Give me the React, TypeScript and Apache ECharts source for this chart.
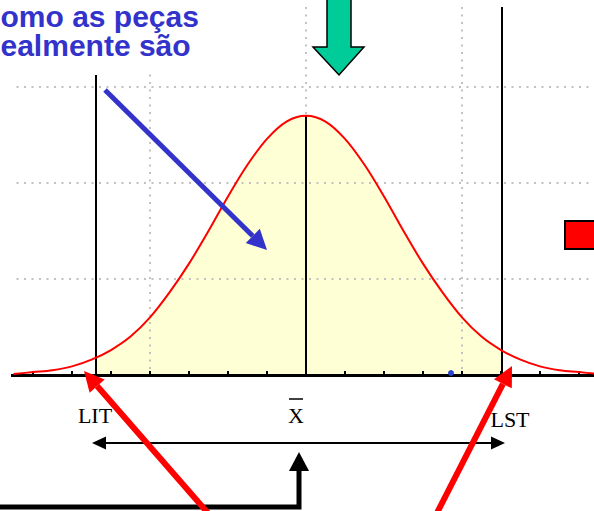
import { useEffect, useRef } from 'react';
import * as echarts from 'echarts';

// Horizontal positions in axis units (one unit per tick), heights in grid units
const curveX = [-7.5, -7, -6.5, -6, -5.5, -5, -4.5, -4, -3.5, -3, -2.5, -2, -1.5, -1, -0.5, 0, 0.5, 1, 1.5, 2, 2.5, 3, 3.5, 4, 4.5, 5, 5.5, 6, 6.5, 7, 7.5];
const curveY = [0.01, 0.03, 0.05, 0.09, 0.16, 0.26, 0.4, 0.6, 0.86, 1.16, 1.5, 1.86, 2.19, 2.46, 2.64, 2.7, 2.64, 2.46, 2.19, 1.86, 1.5, 1.16, 0.86, 0.6, 0.4, 0.26, 0.16, 0.09, 0.05, 0.03, 0.01];

// Specification limits and mean
const LIT = -5.385;
const LST = 5.03;
const MEAN = 0;
const litHeight = 0.17;
const lstHeight = 0.24;
const peakHeight = 2.7;
const litTop = 3.125;
const lstTop = 3.833;

const limitLabels = ['LIT', 'X', 'LST'];
const headline = ['omo as peças', 'ealmente são'];

// The chart canvas starts a little left of the visible page so that the
// axis range -8..8 lines up with the tick spacing; overlay drawings are
// placed in a group shifted back so their coordinates are page pixels.
const SHIFT = 6;
const VIEW_W = 594;
const VIEW_H = 511;
const CHART_W = 624;

type Pt = [number, number];

// Triangle arrow head pointing at `tip`, coming from `from`
function head(tip: Pt, from: Pt, len: number, half: number) {
  const dx = tip[0] - from[0];
  const dy = tip[1] - from[1];
  const d = Math.hypot(dx, dy);
  const ux = dx / d;
  const uy = dy / d;
  const bx = tip[0] - ux * len;
  const by = tip[1] - uy * len;
  const px = -uy;
  const py = ux;
  return {
    base: [bx, by] as Pt,
    points: [tip, [bx + px * half, by + py * half], [bx - px * half, by - py * half]] as Pt[],
  };
}

function arrow(from: Pt, tip: Pt, color: string, width: number, len: number, half: number, z: number) {
  const h = head(tip, from, len, half);
  return [
    { type: 'line', z, shape: { x1: from[0], y1: from[1], x2: h.base[0], y2: h.base[1] }, style: { stroke: color, lineWidth: width } },
    { type: 'polygon', z, shape: { points: h.points }, style: { fill: color } },
  ];
}

export default function App() {
  const ref = useRef<HTMLDivElement>(null);

  useEffect(() => {
    if (!ref.current) return;
    const chart = echarts.init(ref.current, undefined, { renderer: 'svg' });

    const curve = curveX.map((x, i) => [x, curveY[i]]);
    const fill: number[][] = [[LIT, litHeight]];
    curveX.forEach((x, i) => {
      if (x > LIT && x < LST) fill.push([x, curveY[i]]);
    });
    fill.push([LST, lstHeight]);

    const dotted = { color: '#c2c2c2', width: 2, type: [2, 5.5] as number[] };
    const serif = '22px "Liberation Serif", "Times New Roman", serif';
    const sans = 'bold 30px "Liberation Sans", Arial, sans-serif';
    const blue = '#3333CC';

    const leftHead = head([92, 443], [505, 443], 14, 6.5);
    const rightHead = head([505, 443], [92, 443], 14, 6.5);
    const upHead = head([299, 452], [299, 507], 19, 10);

    const overlay: any[] = [
      // text box background and left margin
      { type: 'rect', z: 50, shape: { x: -SHIFT, y: 0, width: 246, height: 72 }, style: { fill: '#fff' } },
      { type: 'rect', z: 50, shape: { x: -SHIFT, y: 72, width: 17, height: 310 }, style: { fill: '#fff' } },
      {
        type: 'text', z: 60, x: 0.5, y: 1.5,
        style: { text: headline.join('\n'), font: sans, lineHeight: 29.5, fill: blue, align: 'left', verticalAlign: 'top' },
      },
      // blue pointer into the curve
      ...arrow([105, 90], [267, 250], blue, 5, 20, 10, 60),
      // green block arrow above the mean
      {
        type: 'polygon', z: 60,
        shape: { points: [[327, -3], [351, -3], [351, 47], [364, 47], [339, 75], [313, 47], [327, 47]] },
        style: { fill: '#00CC99', stroke: '#000', lineWidth: 1.5 },
      },
      // red legend square
      { type: 'rect', z: 60, shape: { x: 565, y: 221, width: 40, height: 28 }, style: { fill: '#FF0000', stroke: '#000', lineWidth: 2 } },
      // small blue marker on the axis
      { type: 'circle', z: 60, shape: { cx: 451, cy: 373, r: 3 }, style: { fill: '#2a44d0' } },
      // limit labels
      { type: 'text', z: 60, x: 95, y: 415.5, style: { text: limitLabels[0], font: serif, fill: '#000', align: 'center', verticalAlign: 'middle' } },
      { type: 'text', z: 60, x: 296, y: 415.5, style: { text: limitLabels[1], font: serif, fill: '#000', align: 'center', verticalAlign: 'middle' } },
      { type: 'line', z: 60, shape: { x1: 289, y1: 399, x2: 303, y2: 399 }, style: { stroke: '#000', lineWidth: 1.5 } },
      { type: 'text', z: 60, x: 510, y: 419.5, style: { text: limitLabels[2], font: serif, fill: '#000', align: 'center', verticalAlign: 'middle' } },
      // tolerance span arrow
      { type: 'line', z: 60, shape: { x1: leftHead.base[0], y1: 443, x2: rightHead.base[0], y2: 443 }, style: { stroke: '#000', lineWidth: 2 } },
      { type: 'polygon', z: 60, shape: { points: leftHead.points }, style: { fill: '#000' } },
      { type: 'polygon', z: 60, shape: { points: rightHead.points }, style: { fill: '#000' } },
      // elbow arrow from below
      {
        type: 'polyline', z: 60,
        shape: { points: [[-10, 507], [299, 507], [299, upHead.base[1]]] },
        style: { stroke: '#000', lineWidth: 5, fill: 'none', lineJoin: 'miter' },
      },
      { type: 'polygon', z: 60, shape: { points: upHead.points }, style: { fill: '#000' } },
      // red arrows to the limits
      ...arrow([214, 520], [84, 371], '#FF0000', 6, 20, 10, 70),
      ...arrow([433.4, 520], [512, 366], '#FF0000', 6, 20, 10, 70),
    ];

    chart.setOption({
      animation: false,
      backgroundColor: '#ffffff',
      grid: { left: 0, right: 0, top: 7, bottom: 136 },
      xAxis: {
        type: 'value',
        min: -8,
        max: 8,
        interval: 4,
        z: 4,
        axisLine: { show: true, lineStyle: { color: '#000', width: 3 } },
        axisTick: { show: true, inside: true, length: 4, lineStyle: { color: '#000', width: 2 } },
        minorTick: { show: true, splitNumber: 4, length: 4, lineStyle: { color: '#000', width: 2 } },
        axisLabel: { show: false },
        splitLine: { show: true, lineStyle: dotted },
      },
      yAxis: {
        type: 'value',
        min: 0,
        max: lstTop,
        interval: 1,
        z: 4,
        axisLine: { show: false },
        axisTick: { show: false },
        axisLabel: { show: false },
        splitLine: { show: true, showMinLine: false, showMaxLine: false, lineStyle: dotted },
      },
      series: [
        {
          type: 'line',
          data: fill,
          smooth: 0.35,
          symbol: 'none',
          silent: true,
          z: 2,
          lineStyle: { width: 0 },
          areaStyle: { color: '#FFFFD5', opacity: 1 },
        },
        {
          type: 'line',
          data: curve,
          smooth: 0.35,
          symbol: 'none',
          silent: true,
          z: 5,
          lineStyle: { color: '#FF0000', width: 2 },
          markLine: {
            silent: true,
            symbol: ['none', 'none'],
            label: { show: false },
            lineStyle: { color: '#000', width: 2, type: 'solid' },
            data: [
              [{ coord: [LIT, 0] }, { coord: [LIT, litTop] }],
              [{ coord: [MEAN, 0] }, { coord: [MEAN, peakHeight] }],
              [{ coord: [LST, 0] }, { coord: [LST, lstTop] }],
            ],
          },
        },
      ],
      graphic: [{ type: 'group', x: SHIFT, y: 0, children: overlay }],
    });

    return () => chart.dispose();
  }, []);

  return (
    <div style={{ position: 'fixed', left: 0, top: 0, width: VIEW_W, height: VIEW_H, overflow: 'hidden', background: '#fff' }}>
      <div ref={ref} style={{ position: 'absolute', left: -SHIFT, top: 0, width: CHART_W, height: VIEW_H }} />
    </div>
  );
}
